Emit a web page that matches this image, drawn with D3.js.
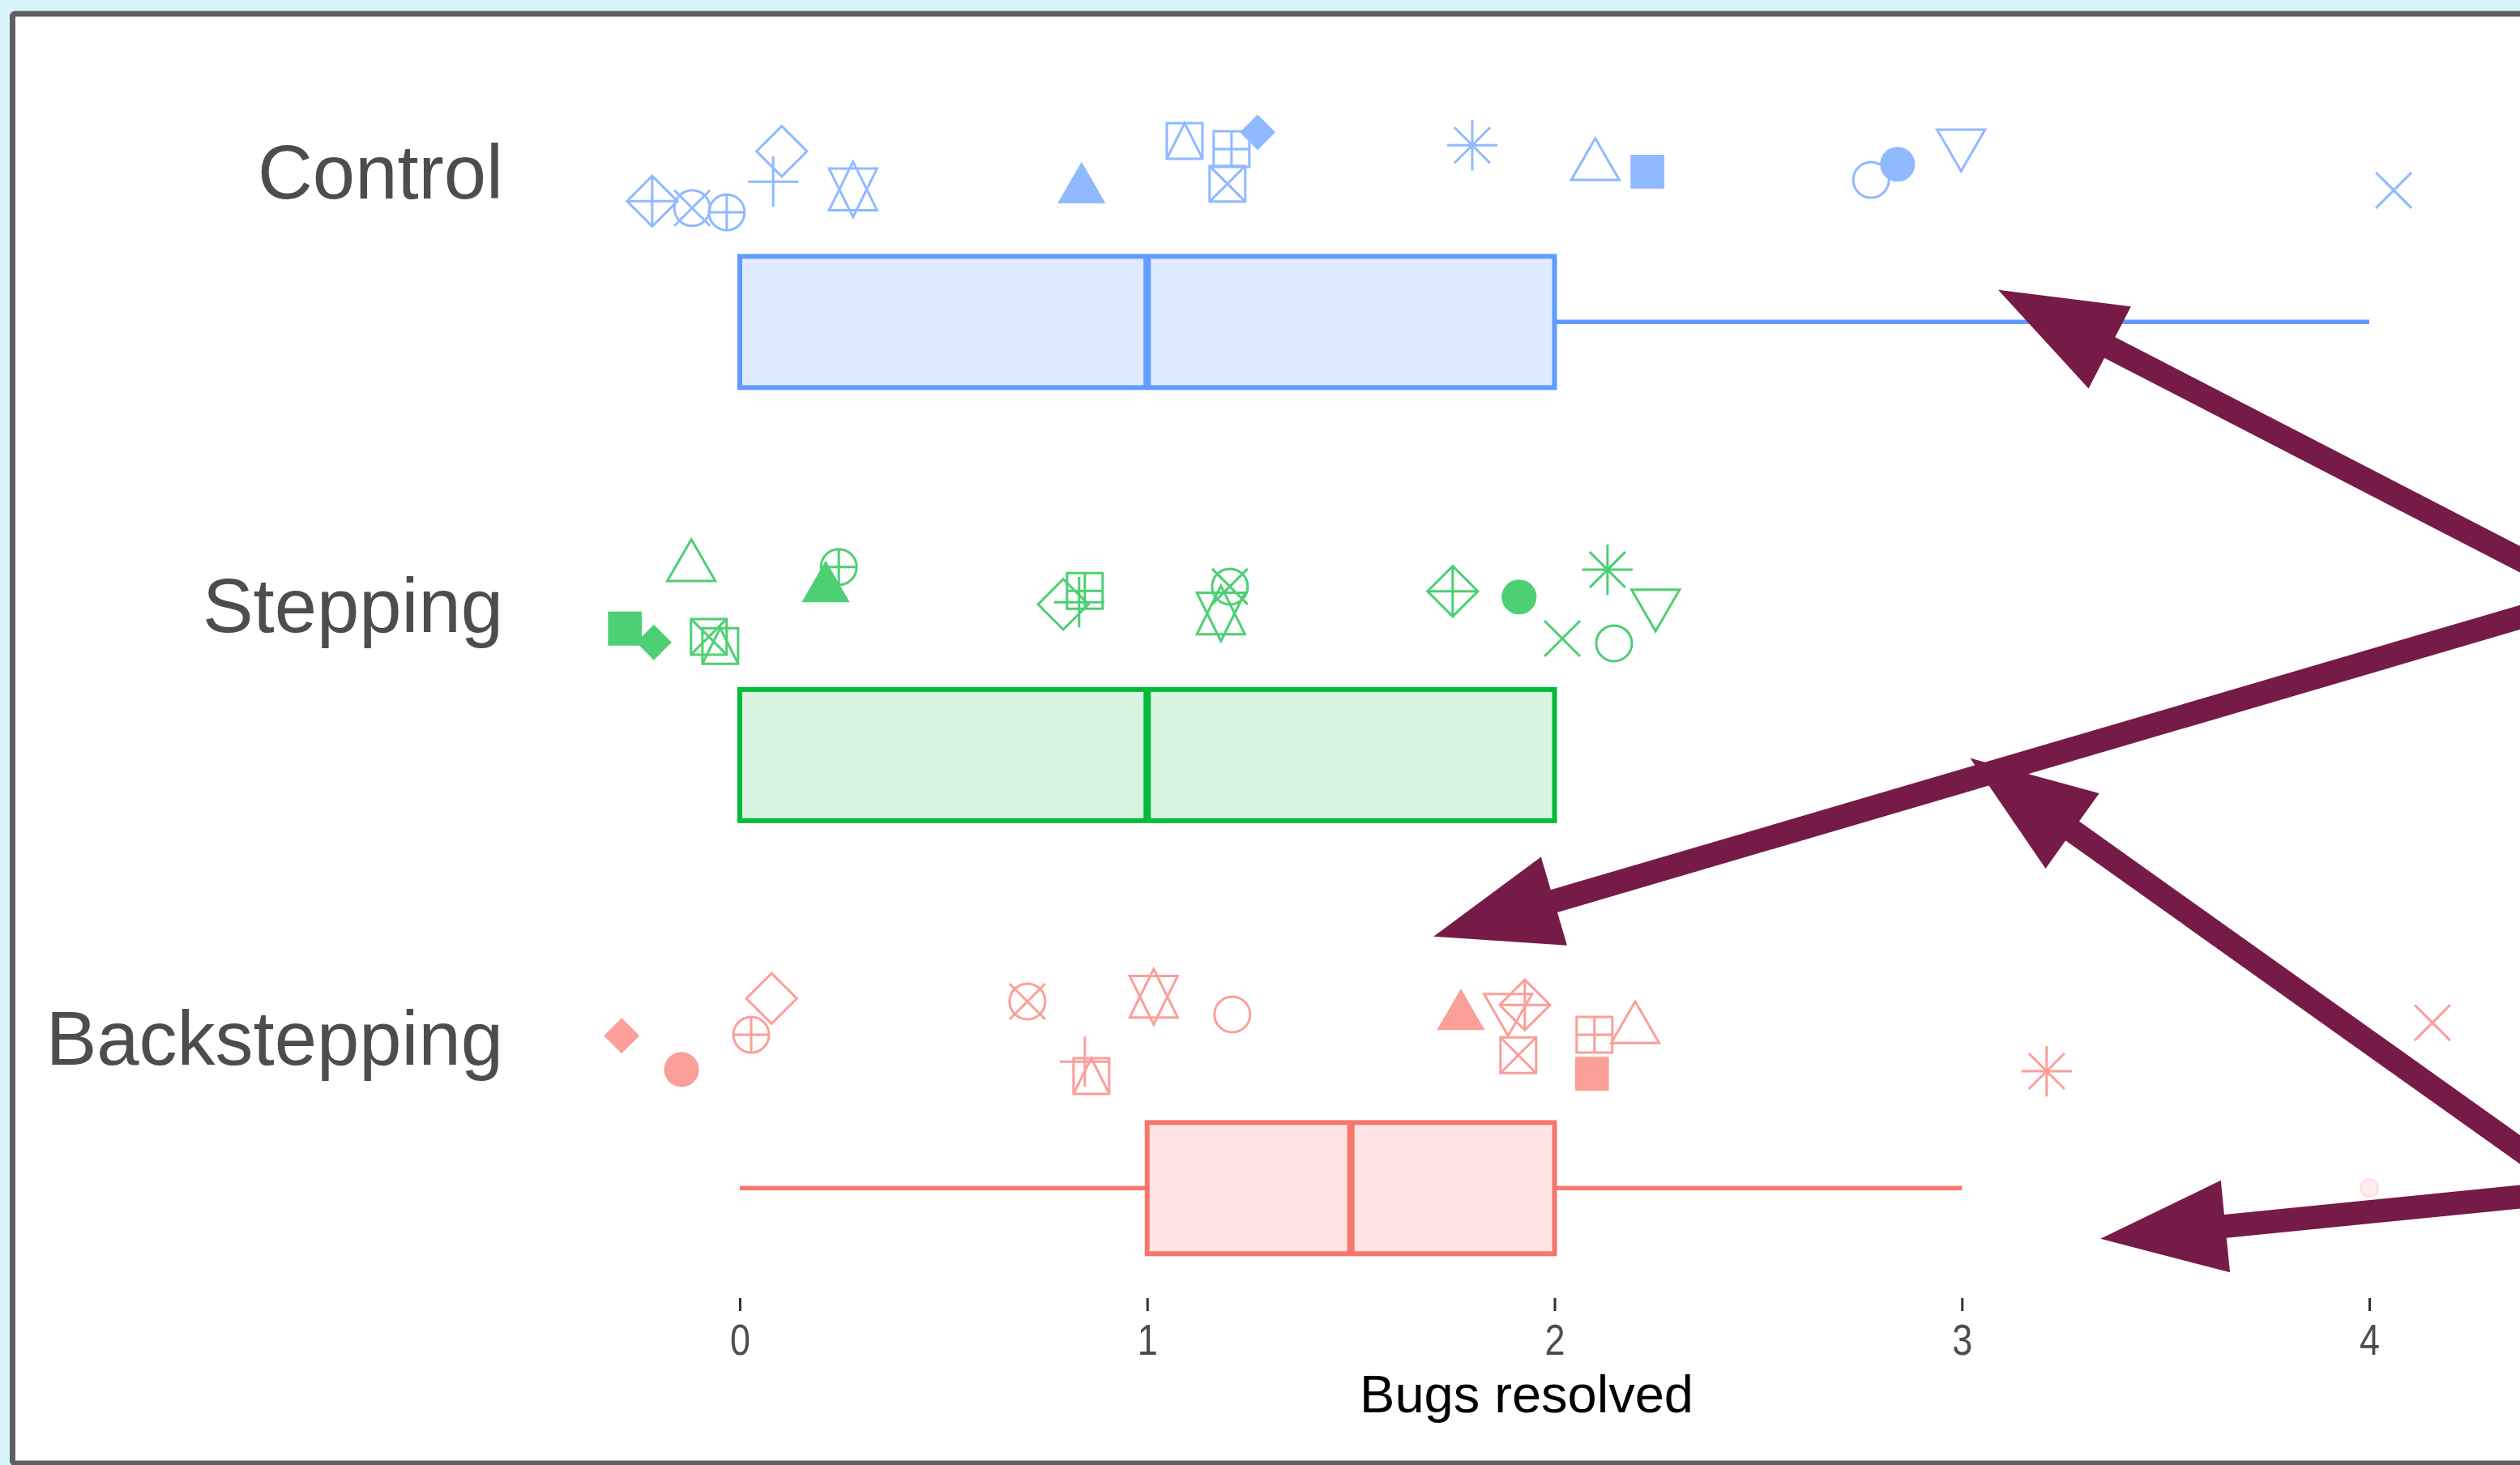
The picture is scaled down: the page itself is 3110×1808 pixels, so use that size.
<!DOCTYPE html>
<html>
<head>
<meta charset="utf-8">
<script src="https://cdn.jsdelivr.net/npm/d3@7"></script>
<style>
  html, body { margin: 0; padding: 0; background: #d9f3fc; overflow: hidden; }
  text { font-family: "Liberation Sans", Arial, Helvetica, sans-serif; }
</style>
</head>
<body>
<div id="chart"></div>
<script>
// categories bottom to top
const categories = ["Backstepping", "Stepping", "Control"];
const colors = ["#F8766D", "#00BA38", "#619CFF"];

// box statistics, same order as categories
const whiskerLow = [0, 0, 0];
const q1 = [1, 0, 0];
const medians = [1.5, 1, 1];
const q3 = [2, 2, 2];
const whiskerHigh = [3, 2, 4];
const outliers = [[4], [], []];

// jittered points: [shape, bugs resolved (jittered), vertical jitter]
const backsteppingPoints = [
  [18, -0.290, 0.009], [16, -0.143, -0.069], [10, 0.028, 0.011], [5, 0.078, 0.095],
  [13, 0.706, 0.088], [3, 0.847, -0.051], [14, 0.863, -0.084], [11, 1.016, 0.099],
  [1, 1.209, 0.058], [17, 1.770, 0.054], [6, 1.886, 0.073], [9, 1.927, 0.080],
  [7, 1.911, -0.036], [12, 2.098, 0.011], [2, 2.198, 0.024], [15, 2.092, -0.079],
  [8, 3.208, -0.073], [4, 4.155, 0.039]
];
const steppingPoints = [
  [2, -0.119, 0.091], [15, -0.282, -0.051], [18, -0.211, -0.083], [7, -0.076, -0.070],
  [14, -0.048, -0.091], [17, 0.211, 0.042], [10, 0.243, 0.091], [5, 0.794, 0.005],
  [12, 0.847, 0.036], [3, 0.833, 0.010], [13, 1.203, 0.046], [11, 1.181, -0.016],
  [9, 1.750, 0.035], [16, 1.913, 0.022], [4, 2.019, -0.074], [1, 2.146, -0.085],
  [8, 2.130, 0.085], [6, 2.248, 0.007]
];
const controlPoints = [
  [9, -0.215, -0.064], [13, -0.117, -0.080], [10, -0.032, -0.090], [5, 0.103, 0.051],
  [3, 0.082, -0.019], [11, 0.278, -0.037], [17, 0.839, -0.037], [14, 1.092, 0.075],
  [12, 1.207, 0.056], [18, 1.271, 0.095], [7, 1.197, -0.024], [8, 1.798, 0.065],
  [2, 2.100, 0.017], [15, 2.228, 0.004], [1, 2.777, -0.015], [16, 2.842, 0.021],
  [6, 2.998, 0.069], [4, 4.060, -0.039]
];
const pointSets = [backsteppingPoints, steppingPoints, controlPoints];

const xTicks = [0, 1, 2, 3, 4];
const xTitle = "Bugs resolved";

// annotation arrows (slide overlay), tip and tail in data units
const arrowTips = [[3.089, 1.731], [1.703, 0.238], [3.020, 0.650], [3.340, -0.460]];
const arrowTails = [[4.370, 1.109], [4.370, 0.975], [4.370, -0.254], [4.370, -0.363]];

const W = 3110, H = 1808;
const x = d3.scaleLinear().domain([0, 4]).range([913, 2924]);
const y = d3.scaleLinear().domain([0, 2]).range([1283, 214]);
const boxOffset = 0.343, boxHalf = 0.1515;
const R = 22;

const svg = d3.select("#chart").append("svg")
  .attr("width", W)
  .attr("height", H);

// slide frame
svg.append("rect").attr("width", W).attr("height", H).attr("fill", "#d9f3fc");
svg.append("rect")
  .attr("x", 15.5).attr("y", 17).attr("width", 3300).attr("height", 1789)
  .attr("rx", 3)
  .attr("fill", "#ffffff")
  .attr("stroke", "#5f5f5f")
  .attr("stroke-width", 7);

function shapePath(pch) {
  const p = d3.path();
  const s2 = Math.SQRT2 * R;
  const tr = 1.5551 * R, tyc = 0.7776 * R, txc = 1.3468 * R;
  const circle = r => { p.moveTo(r, 0); p.arc(0, 0, r, 0, 2 * Math.PI); };
  const line = (x1, y1, x2, y2) => { p.moveTo(x1, y1); p.lineTo(x2, y2); };
  const poly = pts => { p.moveTo(pts[0][0], pts[0][1]); pts.slice(1).forEach(q => p.lineTo(q[0], q[1])); p.closePath(); };
  switch (pch) {
    case 1: circle(R); break;
    case 2: case 17: poly([[0, -tr], [txc, tyc], [-txc, tyc]]); break;
    case 3: line(-s2, 0, s2, 0); line(0, -s2, 0, s2); break;
    case 4: line(-R, -R, R, R); line(-R, R, R, -R); break;
    case 5: poly([[0, -s2], [s2, 0], [0, s2], [-s2, 0]]); break;
    case 6: poly([[0, tr], [txc, -tyc], [-txc, -tyc]]); break;
    case 7: poly([[-R, -R], [R, -R], [R, R], [-R, R]]); line(-R, -R, R, R); line(-R, R, R, -R); break;
    case 8: line(-R, -R, R, R); line(-R, R, R, -R); line(-s2, 0, s2, 0); line(0, -s2, 0, s2); break;
    case 9: poly([[0, -s2], [s2, 0], [0, s2], [-s2, 0]]); line(-s2, 0, s2, 0); line(0, -s2, 0, s2); break;
    case 10: circle(R); line(-R, 0, R, 0); line(0, -R, 0, R); break;
    case 11: {
      const yc = 0.5 * (tyc + tr);
      poly([[0, -tr], [txc, yc], [-txc, yc]]);
      poly([[0, tr], [txc, -yc], [-txc, -yc]]);
      break;
    }
    case 12: poly([[-R, -R], [R, -R], [R, R], [-R, R]]); line(-R, 0, R, 0); line(0, -R, 0, R); break;
    case 13: circle(R); line(-R, -R, R, R); line(-R, R, R, -R); break;
    case 14: poly([[-R, -R], [R, -R], [R, R], [-R, R]]); p.moveTo(-R, R); p.lineTo(0, -R); p.lineTo(R, R); break;
    case 15: { const h = 0.95 * R; poly([[-h, -h], [h, -h], [h, h], [-h, h]]); break; }
    case 16: circle(0.98 * R); break;
    case 18: poly([[0, -R], [R, 0], [0, R], [-R, 0]]); break;
  }
  return p.toString();
}
const filled = new Set([15, 16, 17, 18]);

// boxplots
categories.forEach((cat, i) => {
  const g = svg.append("g").attr("class", "box");
  const cy = y(i - boxOffset);
  const top = y(i - boxOffset + boxHalf), bottom = y(i - boxOffset - boxHalf);
  const col = colors[i];

  g.selectAll("line.whisker")
    .data([[whiskerLow[i], q1[i]], [q3[i], whiskerHigh[i]]].filter(d => d[1] > d[0]))
    .enter().append("line")
    .attr("class", "whisker")
    .attr("x1", d => x(d[0])).attr("x2", d => x(d[1]))
    .attr("y1", cy).attr("y2", cy)
    .attr("stroke", col).attr("stroke-width", 5.5);

  g.append("rect")
    .attr("x", x(q1[i]))
    .attr("y", top)
    .attr("width", x(q3[i]) - x(q1[i]))
    .attr("height", bottom - top)
    .attr("fill", col).attr("fill-opacity", cat === "Stepping" ? 0.15 : 0.2)
    .attr("stroke", col).attr("stroke-width", 6);

  g.append("line")
    .attr("x1", x(medians[i])).attr("x2", x(medians[i]))
    .attr("y1", top).attr("y2", bottom)
    .attr("stroke", col).attr("stroke-width", 9);

  g.selectAll("circle.outlier")
    .data(outliers[i])
    .enter().append("circle")
    .attr("class", "outlier")
    .attr("cx", d => x(d)).attr("cy", cy).attr("r", 11)
    .attr("fill", col).attr("fill-opacity", 0.12)
    .attr("stroke", col).attr("stroke-opacity", 0.2).attr("stroke-width", 2);
});

// jittered points
pointSets.forEach((pts, i) => {
  const col = colors[i];
  svg.append("g").attr("opacity", 0.7)
    .selectAll("path")
    .data(pts)
    .enter().append("path")
    .attr("transform", d => `translate(${x(d[1])},${y(i + d[2])})`)
    .attr("d", d => shapePath(d[0]))
    .attr("fill", d => filled.has(d[0]) ? col : "none")
    .attr("stroke", d => filled.has(d[0]) ? "none" : col)
    .attr("stroke-width", 3);
});

// category labels
svg.append("g").selectAll("text")
  .data(categories)
  .enter().append("text")
  .attr("x", 621)
  .attr("y", (d, i) => y(i) + 31)
  .attr("text-anchor", "end")
  .attr("fill", "#4d4d4d")
  .style("font-size", "94px")
  .text(d => d);

// x axis
const axis = svg.append("g")
  .attr("transform", "translate(0,1602)")
  .call(d3.axisBottom(x).tickValues(xTicks).tickFormat(d3.format("d")).tickSize(16).tickPadding(10));
axis.select(".domain").remove();
axis.selectAll(".tick line").attr("stroke", "#333333").attr("stroke-width", 3);
axis.selectAll(".tick text")
  .attr("fill", "#4d4d4d")
  .attr("transform", "scale(1,1.2)")
  .style("font-size", "45px")
  .style("font-family", "'Liberation Sans', Arial, sans-serif");

svg.append("text")
  .attr("x", 1884)
  .attr("y", 1743)
  .attr("text-anchor", "middle")
  .attr("fill", "#000000")
  .style("font-size", "65px")
  .text(xTitle);

// slide annotation arrows
const arrows = svg.append("g").attr("fill", "#761b47").attr("stroke", "none");
arrowTips.forEach((tip, k) => {
  const tx = x(tip[0]), ty = y(tip[1]);
  const sx = x(arrowTails[k][0]), sy = y(arrowTails[k][1]);
  const len = Math.hypot(sx - tx, sy - ty);
  const ux = (sx - tx) / len, uy = (sy - ty) / len;
  const px = -uy, py = ux;
  const headLen = 155, headHalf = 57, shaftHalf = 14.5;
  const bx = tx + ux * headLen, by = ty + uy * headLen;
  const ex = sx + ux * 200, ey = sy + uy * 200;
  arrows.append("path")
    .attr("d", `M${bx + px * shaftHalf - ux * 10},${by + py * shaftHalf - uy * 10}` +
      `L${ex + px * shaftHalf},${ey + py * shaftHalf}` +
      `L${ex - px * shaftHalf},${ey - py * shaftHalf}` +
      `L${bx - px * shaftHalf - ux * 10},${by - py * shaftHalf - uy * 10}Z`);
  arrows.append("path")
    .attr("d", `M${tx},${ty}L${bx + px * headHalf},${by + py * headHalf}L${bx - px * headHalf},${by - py * headHalf}Z`);
});
</script>
</body>
</html>
